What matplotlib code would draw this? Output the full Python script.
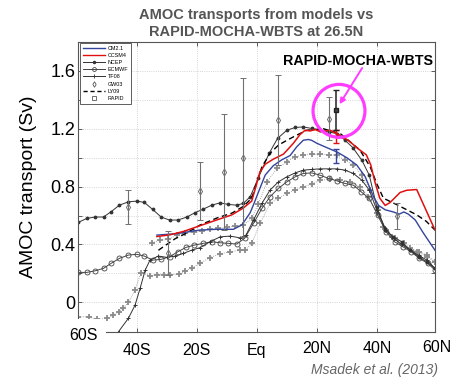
import numpy as np
import matplotlib
matplotlib.use('Agg')
import matplotlib.pyplot as plt
from matplotlib.lines import Line2D
from matplotlib.patches import Ellipse, Rectangle

plt.rcParams['font.family'] = ['Liberation Sans', 'DejaVu Sans']

# data (latitude in degrees, transport in Sv)
lat_ncep = [-59.5,-56.7,-53.9,-51.1,-48.6,-45.8,-42.8,-40,-37.5,-34.7,-31.9,-29.1,-26.3,-23.3,-20.6,
            -17.8,-15,-12.2,-9.5,-6.7,-4.5,-2.2,0.5,4.1,6.9,10,12.8,15.5,18.3,21.1,23.9,26.7,29.4,
            32,35,37.5,40,42.8,45.5,48.3,51.1,53.9,56.7,59.4]
ncep = [0.553,0.58,0.59,0.59,0.626,0.672,0.695,0.70,0.691,0.642,0.59,0.569,0.569,0.59,0.62,
        0.645,0.672,0.688,0.677,0.672,0.684,0.73,0.86,1.03,1.133,1.19,1.209,1.213,1.202,1.19,1.178,1.167,1.121,
        1.07,0.983,0.879,0.66,0.50,0.453,0.419,0.361,0.315,0.28,0.235]

lat_ecmwf = [-59.5,-56.7,-53.9,-51.1,-48.6,-45.8,-42.8,-40,-37.5,-34.7,-31.9,-29.1,-26.3,-23.6,-20.8,
             -17.8,-15,-12.2,-9.5,-6.7,-4.1,-1.1,1.7,4.4,7.2,10,12.8,15.5,18.3,21.1,23.9,26.7,29.4,
             32.2,34.8,37.5,40.3,43.1,45.9,48.7,51.4,54.2,57,59.4]
ecmwf = [0.207,0.207,0.218,0.235,0.269,0.304,0.327,0.332,0.32,0.292,0.297,0.315,0.35,0.38,0.396,
         0.408,0.419,0.412,0.408,0.403,0.442,0.546,0.649,0.73,0.788,0.833,0.868,0.891,0.895,0.879,0.857,0.84,0.822,
         0.81,0.764,0.718,0.603,0.488,0.419,0.384,0.35,0.304,0.269,0.223]

lat_tf08 = [-48,-46.1,-42.8,-40.6,-38.9,-37.2,-35.6,-32.8,-30,-27.2,-24.5,-21.7,-18.9,-15.6,-12.2,-8.9,-5.6,
            -3.6,-1.1,1.7,4.4,7.2,10,12.8,15.5,18.3,21.1,24,26.7,29.4,32.2,35,37.5,40,42.8,45.6,48.3,
            51.1,53.9,56.7,59.4]
tf08 = [-0.26,-0.203,-0.11,-0.02,0.097,0.223,0.292,0.32,0.311,0.32,0.338,0.361,0.378,0.419,0.453,0.458,0.446,
        0.465,0.569,0.684,0.776,0.833,0.868,0.895,0.914,0.919,0.923,0.923,0.923,0.914,0.891,0.845,0.776,0.638,0.511,0.442,0.40,
        0.361,0.325,0.292,0.235]

# TF08 upper / lower bounds (grey crosses)
lat_tf_up = [-35,-32.2,-29.5,-26.7,-23.9,-21.1,-18.3,-15.6,-12.8,-10,-7.2,-4.5,-1.7,0.5,3.3,
             6.7,10,12.8,15.5,18.3,21.1,24,26.7,29.4,32.2,35,37.8,40.3,43.1,45.9,48.5,51.1,54,56.7,59.4]
tf_up = [0.412,0.43,0.435,0.465,0.477,0.488,0.495,0.504,0.511,0.518,0.527,0.534,0.58,0.68,0.83,
         0.926,0.971,1.006,1.018,1.024,1.024,1.02,1.018,0.983,0.948,0.879,0.776,0.638,0.5,0.442,0.40,0.373,0.35,0.327,0.28]
lat_tf_lo = [-59.5,-56.1,-53.3,-50,-47.8,-46.1,-44.5,-42.8,-40.6,-38.6,-35.5,-33.3,-31.1,-28.9,-26.1,
             -23.9,-21.7,-18.9,-15.6,-12.2,-8.9,-5.6,-3.9,-1.7,1.1,4.4,7.2,10,12.8,15.5,18.3,21.1,24.4,27.8,31.1,
             34.4,37.2,40,42.2,45,48.9,53.3,56.7,59.4]
tf_lo = [-0.1,-0.1,-0.118,-0.111,-0.088,-0.065,-0.04,0.0,0.085,0.205,0.185,0.19,0.19,0.19,0.195,
         0.218,0.235,0.27,0.31,0.335,0.35,0.36,0.36,0.408,0.546,0.684,0.72,0.753,0.776,0.799,0.817,0.845,0.85,0.845,0.833,
         0.799,0.73,0.615,0.522,0.453,0.408,0.35,0.315,0.28]

lat_cm21 = [-33.3,-26.7,-22.2,-18.9,-13.3,-7.8,-5,-3.5,-2.2,-1,0.5,2.8,5.5,8.3,11.1,13.3,15.5,17.2,18.3,20,
            23.3,26.7,30,33.3,36.1,38.9,40.6,42.8,45.5,47.5,49,50.5,52.8,55.5,59.4]
cm21 = [0.465,0.475,0.49,0.50,0.505,0.505,0.535,0.58,0.62,0.68,0.76,0.88,0.945,0.985,1.015,1.075,1.121,1.126,1.12,1.10,
        1.07,1.04,1.0,0.95,0.87,0.73,0.67,0.64,0.625,0.61,0.625,0.61,0.57,0.48,0.36]

lat_ccsm4 = [-33.3,-28.9,-24.5,-18.9,-13.3,-8.3,-4.5,-1.7,-0.3,1.0,2.8,5.5,8.9,12.2,14.4,16.1,17.8,19.5,21.1,24.4,
             27.2,30.5,33.9,36.5,38,39.4,41,42.8,44.4,47.8,50,53.3,59.4]
ccsm4 = [0.455,0.467,0.49,0.53,0.57,0.605,0.652,0.70,0.80,0.90,0.955,0.99,1.025,1.10,1.16,1.19,1.185,1.195,1.18,1.19,
         1.16,1.12,1.06,1.02,0.95,0.83,0.72,0.67,0.69,0.76,0.775,0.78,0.50]

lat_ly09 = [-32.8,-31.1,-27.2,-23.3,-18.9,-13.3,-8.3,-4.5,-1.7,0,1.7,4.4,7.2,10,13.3,16.7,22.2,27.8,31.1,34.4,
            37.8,40,42.2,46.7,50,53.3,56.5,59.4]
ly09 = [0.36,0.385,0.44,0.48,0.535,0.583,0.617,0.663,0.72,0.83,0.937,1.03,1.087,1.12,1.156,1.19,1.2,1.167,1.11,1.052,
        0.937,0.82,0.72,0.675,0.64,0.605,0.56,0.5]

# hydrographic estimates (GW03) with error bars
lat_gw03 = [-42.8,-29.7,-18.9,-11.1,-4.5,7.2,23.9,46.7]
gw03 = [0.66,0.34,0.77,0.90,1.00,1.26,1.27,0.60]
gw03_err = [0.12,0.15,0.2,0.4,0.55,0.31,0.15,0.09]

# RAPID-MOCHA-WBTS and model values at 26.5N
lat_rapid = [26.4]
rapid = [1.33]
rapid_err = [0.14]
ccsm4_rapid = [1.145]
ccsm4_rapid_err = [0.045]
cm21_rapid = [1.01]
cm21_rapid_err = [0.05]

xtick_pos = [-40, -20, 0, 20, 40, 60]
xtick_lab = ['40S', '20S', 'Eq', '20N', '40N', '60N']
xtick_y = [-0.079, -0.079, -0.079, -0.074, -0.074, -0.068]

W, H = 467, 385
fig = plt.figure(figsize=(W/100, H/100), dpi=100)
ax = fig.add_axes([78/W, 1-332/H, 357/W, 290/H])

grey = '#8a8a8a'
ax.plot(lat_tf_lo, tf_lo, ls=':', lw=0.6, color=grey, marker='+', ms=4, mew=1.3)
ax.plot(lat_tf_up, tf_up, ls=':', lw=0.6, color=grey, marker='+', ms=4, mew=1.3)
ax.plot(lat_ecmwf, ecmwf, color='#444444', lw=0.7, marker='o', ms=3.6, mfc='none', mew=0.6)
ax.plot(lat_tf08, tf08, color='#333333', lw=0.7, marker='+', ms=3.5, mew=0.7)
ax.plot(lat_ncep, ncep, color='#333333', lw=0.7, marker='.', ms=3.5)
ax.plot(lat_ly09, ly09, color='black', lw=1.0, ls=(0, (4, 2.5)))
ax.plot(lat_cm21, cm21, color='#34449c', lw=1.0)
ax.plot(lat_ccsm4, ccsm4, color='#e01010', lw=1.1)

ax.errorbar(lat_gw03, gw03, yerr=gw03_err, fmt='d', color='#707070', mfc='none', ms=3.5,
            mew=0.7, elinewidth=0.8, capsize=2.5, capthick=0.8)
ax.errorbar(lat_rapid, ccsm4_rapid, yerr=ccsm4_rapid_err, fmt='none', ecolor='#e01010',
            elinewidth=1.0, capsize=2.5, capthick=1.0)
ax.errorbar(lat_rapid, cm21_rapid, yerr=cm21_rapid_err, fmt='none', ecolor='#34449c',
            elinewidth=1.0, capsize=2.5, capthick=1.0)
ax.errorbar(lat_rapid, rapid, yerr=rapid_err, fmt='s', color='#222222', mfc='#444444', ms=3.5,
            elinewidth=1.1, capsize=2.5, capthick=1.0)

ax.set_xlim(-59.6, 59.4)
ax.set_ylim(-0.205, 1.8)
ax.set_xticks([-40, -20, 0, 20, 40])
ax.set_xticklabels([])
yt = np.round(np.arange(0, 1.61, 0.2), 1)
ax.set_yticks(yt)
ax.set_yticklabels([('%g' % v) if i % 2 == 0 else '' for i, v in enumerate(yt)])
ax.tick_params(direction='in', length=3, width=0.6, color='#444444', labelsize=13, pad=2,
               top=True, right=True)
ax.grid(True, ls=':', lw=0.6, color='#c8c8c8')
for s in ax.spines.values():
    s.set_color('#555555')
    s.set_linewidth(0.8)

trans = ax.get_xaxis_transform()
for xp, lab, yp in zip(xtick_pos, xtick_lab, xtick_y):
    ax.text(xp, yp, lab, transform=trans, ha='center', va='baseline', fontsize=11.5, clip_on=False)

# white patch hiding the lower-left corner behind the "60S" label
fig.add_artist(Rectangle((60/W, 1-346/H), 46/W, 27/H, transform=fig.transFigure,
                         facecolor='white', edgecolor='none', zorder=10))
fig.text(83/W, 1-340/H, '60S', ha='center', va='baseline', fontsize=11.5, zorder=11)

ax.text(-0.14, 0.5, 'AMOC transport (Sv)', transform=ax.transAxes, rotation=90,
        ha='center', va='center', fontsize=14)

fig.text(256/W, 1-19.5/H, 'AMOC transports from models vs', ha='center', va='baseline',
         fontsize=10.5, fontweight='bold', color='#555555')
fig.text(256/W, 1-36.5/H, 'RAPID-MOCHA-WBTS at 26.5N', ha='center', va='baseline',
         fontsize=10.5, fontweight='bold', color='#555555')
fig.text(438/W, 1-374/H, 'Msadek et al. (2013)', ha='right', va='baseline',
         fontsize=10, style='italic', color='#666666')

# annotation of the observations
mag = '#ff3cff'
ax.add_patch(Ellipse((27.4, 1.324), 17.3, 0.366, facecolor='none', edgecolor=mag, lw=2.3, zorder=6))
ax.text(33.8, 1.638, 'RAPID-MOCHA-WBTS', ha='center', va='baseline', fontsize=10.3,
        fontweight='bold', zorder=7)
ax.annotate('', xy=(27.6, 1.37), xytext=(35.1, 1.62),
            arrowprops=dict(arrowstyle='-|>', color=mag, lw=1.4, mutation_scale=8,
                            shrinkA=0, shrinkB=0))

handles = [
    Line2D([], [], color='#34449c', lw=1.0),
    Line2D([], [], color='#e01010', lw=1.0),
    Line2D([], [], color='#333333', lw=0.7, marker='.', ms=3),
    Line2D([], [], color='#444444', lw=0.7, marker='o', ms=2.8, mfc='none', mew=0.6),
    Line2D([], [], color='#333333', lw=0.7, marker='+', ms=3, mew=0.6),
    Line2D([], [], ls='none', color='#555555', marker='d', ms=2.8, mfc='none', mew=0.6),
    Line2D([], [], color='black', lw=1.0, ls=(0, (3, 2))),
    Line2D([], [], ls='none', color='#555555', marker='s', ms=2.5, mfc='none', mew=0.6),
]
labels = ['CM2.1', 'CCSM4', 'NCEP', 'ECMWF', 'TF08', 'GW03', 'LY09', 'RAPID']
leg = ax.legend(handles, labels, loc='upper left', bbox_to_anchor=(80/W, 1-43/H),
                bbox_transform=fig.transFigure, borderaxespad=0, fontsize=3.9,
                handlelength=4.2, handletextpad=0.4, labelspacing=0.4, borderpad=0.5,
                fancybox=False, framealpha=1)
leg.get_frame().set_edgecolor('#444444')
leg.get_frame().set_linewidth(0.6)

fig.savefig('out.png', dpi=100)
